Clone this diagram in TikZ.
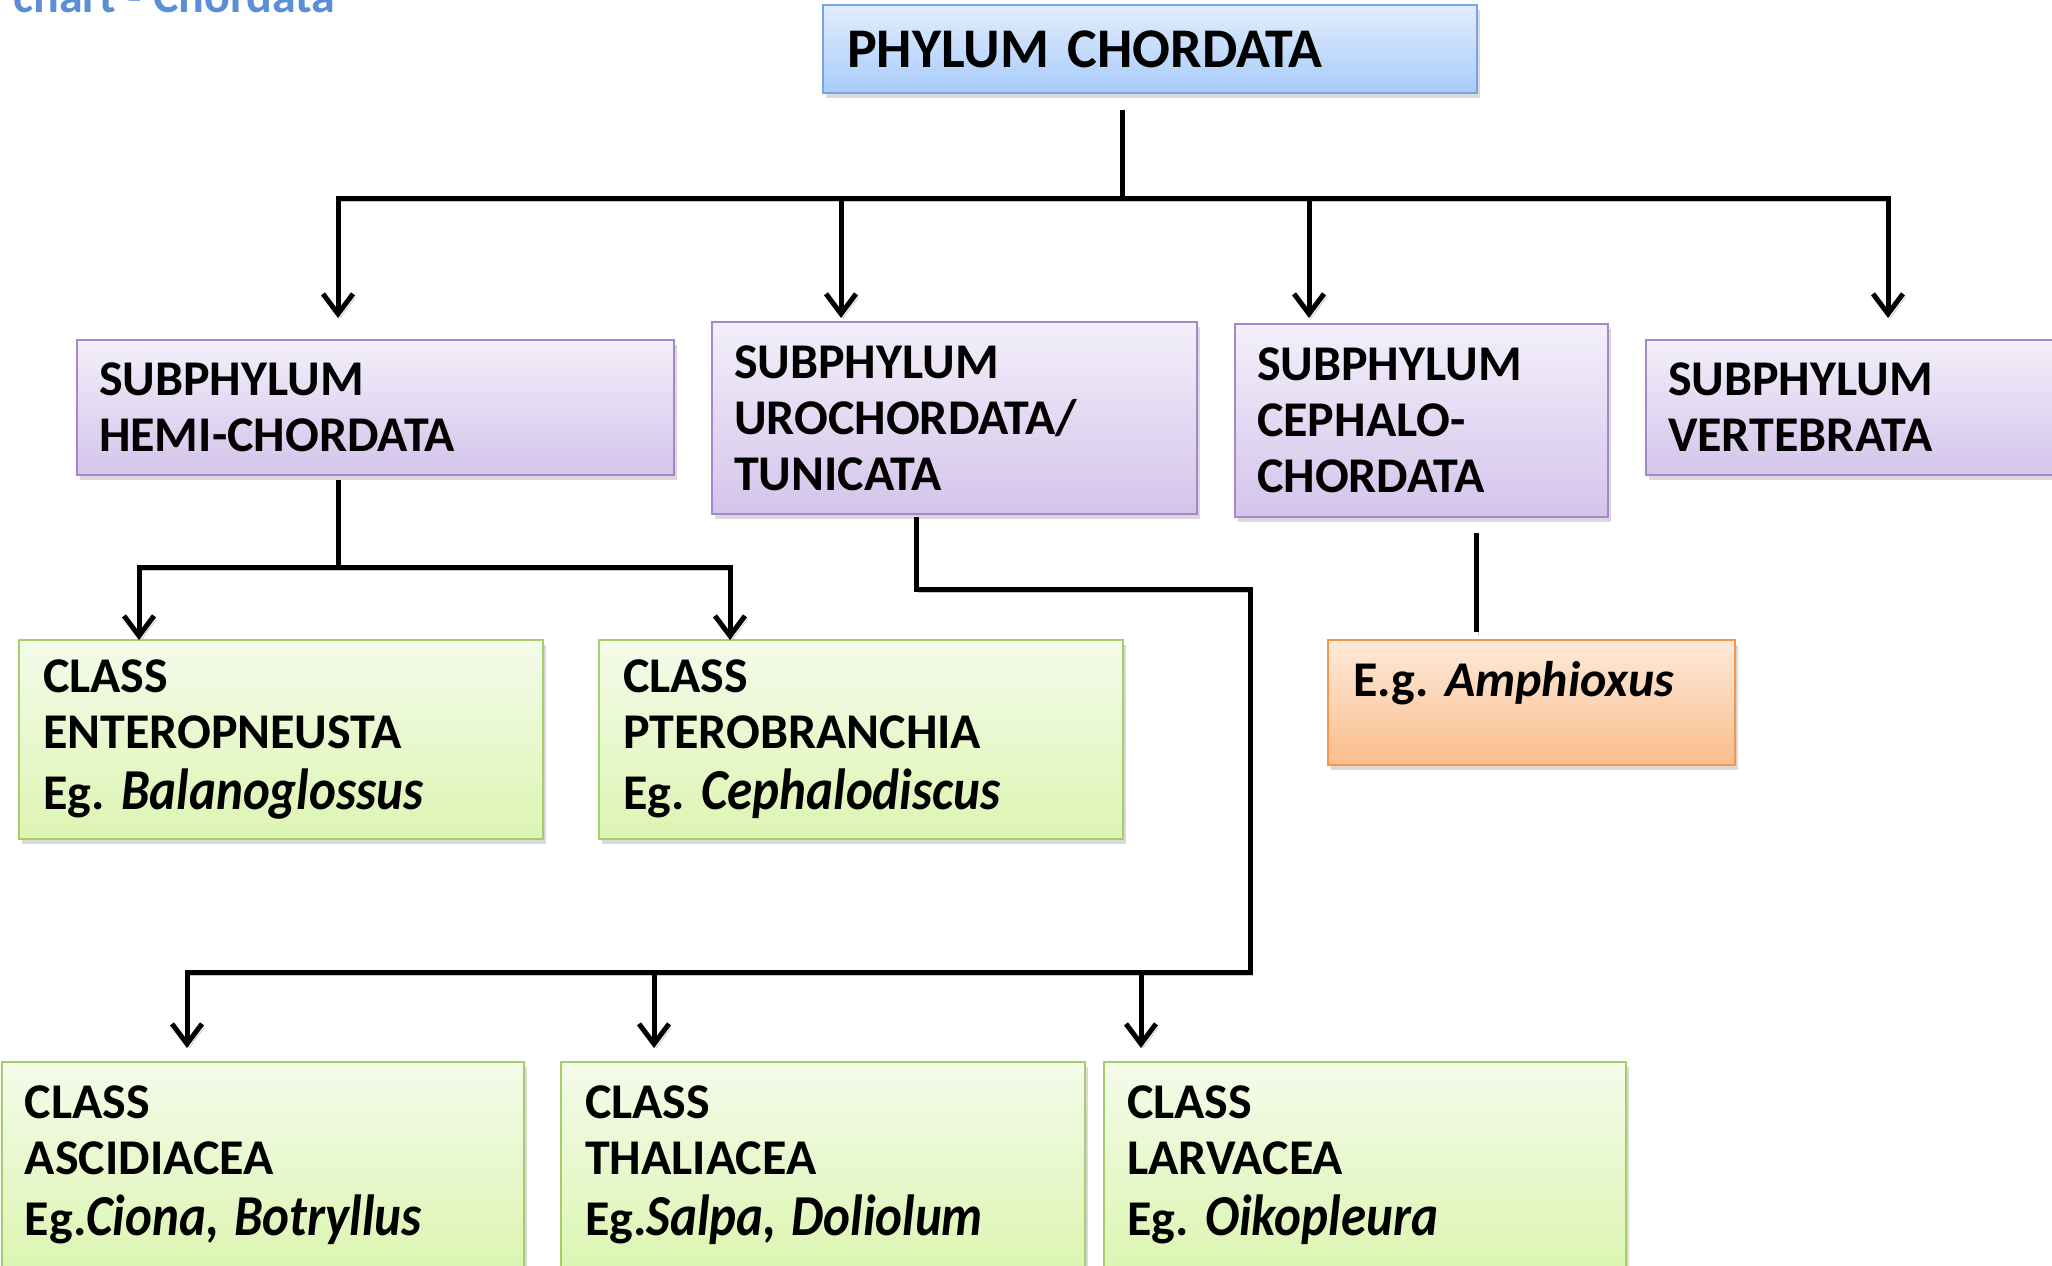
\documentclass[tikz,border=0pt]{standalone}
\usepackage{fontspec}
\setmainfont{Carlito}
\usetikzlibrary{arrows.meta,shadows}
\definecolor{phyT}{RGB}{226,237,254}
\definecolor{phyB}{RGB}{168,203,250}
\definecolor{phyD}{RGB}{120,165,225}
\definecolor{subT}{RGB}{243,239,250}
\definecolor{subB}{RGB}{212,196,235}
\definecolor{subD}{RGB}{165,135,205}
\definecolor{clsT}{RGB}{244,251,234}
\definecolor{clsB}{RGB}{220,245,178}
\definecolor{clsD}{RGB}{165,205,105}
\definecolor{orgT}{RGB}{253,234,218}
\definecolor{orgB}{RGB}{251,190,140}
\definecolor{orgD}{RGB}{245,150,75}
\definecolor{ttl}{RGB}{91,142,214}
\frenchspacing
\newcommand{\spname}[1]{\scalebox{0.88}[1]{\fontsize{29}{34}\selectfont\bfseries\itshape #1}}
\begin{document}
\begin{tikzpicture}[x=0.5pt,y=-0.5pt,
  boxbase/.style={anchor=north west, line width=1pt, align=left, inner ysep=0pt,
    font=\fontsize{25}{28}\selectfont\bfseries,
    drop shadow={shadow xshift=1.5pt,shadow yshift=-2.5pt,opacity=0.3}},
  phybox/.style={boxbase, draw=phyD, top color=phyT, bottom color=phyB, inner xsep=12pt,
    font=\fontsize{28}{32}\selectfont\bfseries},
  subbox/.style={boxbase, draw=subD, top color=subT, bottom color=subB, inner xsep=11pt},
  clsbox/.style={boxbase, draw=clsD, top color=clsT, bottom color=clsB, inner xsep=12pt},
  orgbox/.style={boxbase, draw=orgD, top color=orgT, bottom color=orgB, inner xsep=12.5pt},
  ln/.style={line width=2.5pt, black,
    preaction={draw=black!22, transform canvas={xshift=1.2pt, yshift=-1.8pt}}},
  arr/.style={ln, -{Straight Barb[length=10pt,width=15pt]}},
]
\useasboundingbox (0,0) rectangle (2052,1265);
\clip (0,0) rectangle (2052,1265);

% title (cut off at the top)
\node[anchor=base west, inner sep=0pt, text=ttl, font=\fontsize{24}{28}\selectfont\bfseries]
  (title) at (13,12) {chart - Chordata};

% boxes
\node[phybox, minimum width=327pt, minimum height=44pt, text width=303pt]
  (phylum) at (822,4) {PHYLUM CHORDATA};

\node[subbox, minimum width=298.5pt, minimum height=67.5pt, text width=276.5pt]
  (hemi) at (76,339) {SUBPHYLUM\\HEMI-CHORDATA};
\node[subbox, minimum width=242.5pt, minimum height=96pt, text width=220.5pt]
  (uro) at (711,321) {SUBPHYLUM\\UROCHORDATA/\\TUNICATA};
\node[subbox, minimum width=186.5pt, minimum height=96.5pt, text width=164.5pt]
  (ceph) at (1234,323) {SUBPHYLUM\\CEPHALO-\\CHORDATA};
\node[subbox, minimum width=217.5pt, minimum height=67.5pt, text width=195.5pt]
  (vert) at (1645,339) {SUBPHYLUM\\VERTEBRATA};

\node[clsbox, minimum width=262pt, minimum height=99.5pt, text width=238pt]
  (ent) at (18,639) {CLASS\\ENTEROPNEUSTA\\[2.5pt]Eg. \spname{Balanoglossus}};
\node[clsbox, minimum width=262pt, minimum height=99.5pt, text width=238pt]
  (pter) at (598,639) {CLASS\\PTEROBRANCHIA\\[2.5pt]Eg. \spname{Cephalodiscus}};
\node[orgbox, minimum width=203.5pt, minimum height=62.5pt, text width=178.5pt]
  (amph) at (1327,639) {E.g. \textit{Amphioxus}\\[-4pt]\mbox{}};

\node[clsbox, minimum width=261pt, minimum height=103pt, text width=238pt, inner xsep=11.5pt]
  (asc) at (1,1061) {CLASS\\ASCIDIACEA\\[2.5pt]Eg.\spname{Ciona, Botryllus}};
\node[clsbox, minimum width=262pt, minimum height=103pt, text width=238pt]
  (thal) at (560,1061) {CLASS\\THALIACEA\\[2.5pt]Eg.\spname{Salpa, Doliolum}};
\node[clsbox, minimum width=261pt, minimum height=103pt, text width=238pt, inner xsep=11.5pt]
  (larv) at (1103,1061) {CLASS\\LARVACEA\\[2.5pt]Eg. \spname{Oikopleura}};

% connector points
\coordinate (t0) at (1122,110);
\coordinate (t1) at (1122,198);
\coordinate (b1) at (338,198);
\coordinate (b2) at (841,198);
\coordinate (b3) at (1309,198);
\coordinate (b4) at (1888,198);
\coordinate (a1) at (338,318);
\coordinate (a2) at (841,318);
\coordinate (a3) at (1309,318);
\coordinate (a4) at (1888,318);

\coordinate (h0) at (338,480);
\coordinate (h1) at (338,567);
\coordinate (hl) at (139,567);
\coordinate (hr) at (730,567);
\coordinate (hla) at (139,640);
\coordinate (hra) at (730,640);

\coordinate (u0) at (916,519);
\coordinate (u1) at (916,589);
\coordinate (u2) at (1250,589);
\coordinate (u3) at (1250,972);
\coordinate (ul) at (187,972);
\coordinate (um) at (654,972);
\coordinate (ur) at (1141,972);
\coordinate (ula) at (187,1048);
\coordinate (uma) at (654,1048);
\coordinate (ura) at (1141,1048);

\coordinate (c0) at (1476,533);
\coordinate (c1) at (1476,632);

% connectors
\draw[ln] (t0) -- (t1);
\draw[ln, line cap=rect] (b1) -- (b4);
\draw[arr] (b1) -- (a1);
\draw[arr] (b2) -- (a2);
\draw[arr] (b3) -- (a3);
\draw[arr] (b4) -- (a4);

\draw[ln] (h0) -- (h1);
\draw[ln, line cap=rect] (hl) -- (hr);
\draw[arr] (hl) -- (hla);
\draw[arr] (hr) -- (hra);

\draw[ln, line cap=rect] (u0) -- (u1) -- (u2) -- (u3) -- (ul);
\draw[arr] (ul) -- (ula);
\draw[arr] (um) -- (uma);
\draw[arr] (ur) -- (ura);

\draw[ln] (c0) -- (c1);
\end{tikzpicture}
\end{document}
